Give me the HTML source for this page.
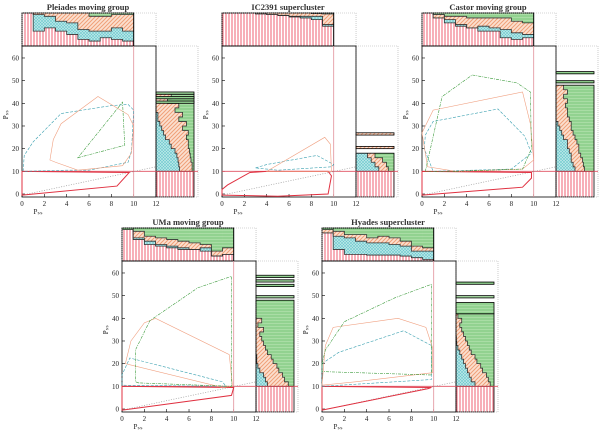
<!DOCTYPE html>
<html><head><meta charset="utf-8">
<style>
html,body{margin:0;padding:0;background:#fff;}
svg{display:block;font-family:"Liberation Serif",serif;}
</style></head>
<body>
<svg id="fig" width="600" height="430" viewBox="0 0 600 430" xmlns="http://www.w3.org/2000/svg">
<defs>
<pattern id="pRed" width="3" height="3" patternUnits="userSpaceOnUse"><rect width="3" height="3" fill="#fff"/><line x1="1" y1="0" x2="1" y2="3" stroke="#f27a8a" stroke-width="1.2"/></pattern>
<pattern id="pCyan" width="3" height="3" patternUnits="userSpaceOnUse"><rect width="3" height="3" fill="#bfe9ea"/><path d="M0,0L3,3M3,0L0,3" stroke="#6cc8cc" stroke-width="0.6"/></pattern>
<pattern id="pOrange" width="4" height="4" patternUnits="userSpaceOnUse"><rect width="4" height="4" fill="#fbe0d0"/><path d="M0,4L4,0M-1,1L1,-1M3,5L5,3" stroke="#f0a078" stroke-width="1"/></pattern>
<pattern id="pGreen" width="3" height="3" patternUnits="userSpaceOnUse"><rect width="3" height="3" fill="#a9dda5"/><line x1="0" y1="1" x2="3" y2="1" stroke="#70c070" stroke-width="0.8"/></pattern>
</defs>
</svg>
<script>
// ---- data ----
const titles = ["Pleiades moving group","IC2391 supercluster","Castor moving group","UMa moving group","Hyades supercluster"];
const xTicks = [0,2,4,6,8,10,12];
const yTicks = [0,10,20,30,40,50,60];
// top histograms: cumulative fractions per 1-unit bin (x 0..10)
const topRed = [
 [1,0.45,0.55,0.45,0.35,0.2,0.15,0.25,0.2,0.15],
 [1,1,1,1,0.95,0.93,0.9,0.85,0.8,0.6],
 [1,0.95,0.7,0.6,0.55,0.45,0.45,0.25,0.2,0.25],
 [1,0.65,0.5,0.45,0.4,0.35,0.35,0.3,0.15,0.2],
 [1,0.35,0.2,0.2,0.18,0.18,0.18,0.15,0.1,0.05]];
const topCyan = [
 [1,0.95,0.9,0.75,0.7,0.5,0.45,0.45,0.55,0.45],
 [1,1,1,0.97,0.95,0.92,0.88,0.9,0.9,0.65],
 [1,0.85,0.8,0.65,0.55,0.6,0.55,0.5,0.4,0.35],
 [1,0.7,0.6,0.5,0.45,0.4,0.35,0.4,0.15,0.2],
 [0.85,0.75,0.7,0.6,0.55,0.55,0.5,0.45,0.3,0.3]];
const topOrange = [
 [1,1,1,1,1,1,0.9,0.9,0.95,0.95],
 [1,1,1,1,1,1,1,1,0.98,0.97],
 [1,0.95,0.9,0.9,0.85,0.85,0.85,0.85,0.75,0.7],
 [0.95,0.9,0.75,0.7,0.65,0.6,0.55,0.5,0.3,0.4],
 [0.95,0.9,0.8,0.8,0.7,0.75,0.7,0.6,0.45,0.4]];
// right histograms: bins of 2 units from P=10; cumulative cyan and orange fractions
const rightCyan = [
 [0.62,0.6,0.58,0.55,0.5,0.4,0.35,0.25,0.2,0.15,0.1,0.05,0.05,0,0,0,0],
 [0.6,0.5,0.4,0.3],
 [0.5,0.45,0.4,0.4,0.35,0.3,0.3,0.2,0.15,0.1,0.05,0,0,0,0,0,0,0,0],
 [0.3,0.25,0.2,0.1,0.05,0.02,0.02,0,0,0,0,0,0,0,0,0,0,0,0],
 [0.5,0.4,0.35,0.3,0.25,0.2,0.15,0.1,0.05,0.02,0.01,0,0,0,0,0]];
const rightOrange = [
 [0.95,0.95,0.92,0.9,0.88,0.85,0.85,0.8,0.85,0.7,0.8,0.6,0.7,0.5,0.6,0.3,0.4],
 [0.85,0.8,0.7,0.5],
 [0.75,0.72,0.7,0.65,0.6,0.6,0.55,0.5,0.45,0.4,0.4,0.35,0.3,0.3,0.25,0.3,0.2,0.3,0.2],
 [0.85,0.75,0.7,0.6,0.55,0.45,0.4,0.3,0.25,0.2,0.15,0.1,0.2,0.05,0.15,0,0,0,0],
 [0.9,0.85,0.8,0.7,0.65,0.55,0.5,0.4,0.35,0.3,0.25,0.2,0.15,0.1,0.15,0.05]];
// isolated thin bars above the main histogram [pLow,pHigh]
const rightBars = [
 [[40,41],[42,43],[44,45]],
 [[20,21],[26,27]],
 [[49,50],[53,54]],
 [[49,50],[54,55],[56,57],[58,59]],
 [[42,47],[49,50],[55,56]]];
// contours: [x,y] in data units
const contRed = [
 [[0,-0.5],[8.5,3.5],[9.6,9.5],[0,10]],
 [[0,-0.5],[5,-1],[9.5,0],[9.8,8],[9.5,10],[4,10],[2.5,9.5],[0.5,4],[0,2]],
 [[0,-0.5],[9,3],[9.8,7],[9.8,9.5],[0,10]],
 [[0,-0.5],[9.8,6],[10,9.5],[0,10]],
 [[0,-0.5],[9.5,9],[9.8,9.5],[0,10]]];
const contCyan = [
 [[0.1,10],[0.2,17],[1,23],[3.5,35.5],[8,39],[9.5,39.5],[10,37],[9.8,19],[9.5,14],[6,10.5],[4,10.5]],
 [[3,11.5],[4,13],[8.5,17],[10,13],[9.8,12],[5,10.5]],
 [[0.2,20],[0.3,26],[1,32],[6.8,37.5],[9.2,25.5],[9.8,18],[8,11],[1,10]],
 [[0,10.5],[0,15],[0.7,22.5],[9,12],[9.3,10]],
 [[0,10],[0,20],[1.5,25],[7.3,34.5],[9.8,28],[9.8,13]]];
const contOrange = [
 [[2.5,15],[2.8,24],[3.5,31],[6.8,43],[9.5,35],[10,30],[9.8,18],[9,12.5],[5,10.5],[3,14]],
 [[4,10],[9.2,25],[9.7,22],[9.8,10]],
 [[0.5,12],[0,27],[1,37],[9,45],[9.7,31],[10,15],[9,11],[3,10]],
 [[9,9.5],[0.3,20],[0.8,30],[2,38],[3,40],[9.6,24],[9.9,10]],
 [[0,10.5],[0.3,28],[1,36],[6.8,40],[9.3,36],[9.9,27],[9.9,16],[3,12]]];
const contGreen = [
 [[5,16],[9.2,21.5],[9,40.5]],
 [],
 [[3,10],[0.3,10],[1.8,43],[4.5,52.5],[8.5,49],[9.7,45],[9.8,20],[9,11]],
 [[1.5,11.5],[1.2,12],[1.2,26],[2.5,39],[6.8,53.5],[9.8,58.5],[9.8,10]],
 [[0,20],[0,16.5],[9.8,15],[9.8,55],[6.5,49],[2,38.5],[0.3,26]]];
const offsets = [[0,0],[200,0],[400,0],[100,215],[300,215]];
const yLabel = ["P\u209B\u209B","P\u209B\u209B","P\u209B\u209B","P\u209B\u209B","P\u209B\u209B"];

const NS="http://www.w3.org/2000/svg";
const svg=document.getElementById('fig');
function mk(tag,attrs,parent){const e=document.createElementNS(NS,tag);for(const k in attrs)e.setAttribute(k,attrs[k]);(parent||svg).appendChild(e);return e;}

offsets.forEach((off,p)=>{
  const ox=off[0], oy=off[1];
  const g=mk('g',{});
  
  
  const X=v=>ox+22+v*11.17;
  const Y=v=>oy+194-v*2.267;
  const TY=f=>oy+46-f*33;
  const RX=f=>ox+156+f*38;
  const t=mk('text',{x:ox+88,y:oy+10,'text-anchor':'middle','font-size':'8.5','font-weight':'bold',fill:'#333'},g);
  t.textContent=titles[p];
  
  
  const th=mk('g',{},g);
  
  
  for(let i=0;i<10;i++){
    const x0=X(i),w=X(i+1)-X(i);
    const layers=[[0,topRed[p][i],'pRed'],[topRed[p][i],topCyan[p][i],'pCyan'],[topCyan[p][i],topOrange[p][i],'pOrange'],[topOrange[p][i],1,'pGreen']];
    layers.forEach(L=>{ if(L[1]>L[0]){const r=mk('rect',{x:x0,y:TY(L[1]),width:w+0.3,height:TY(L[0])-TY(L[1]),fill:'url(#'+L[2]+')'},th);
      
      }});
  }
  [topRed[p],topCyan[p],topOrange[p]].forEach(arr=>{
    let d='';for(let i=0;i<10;i++){d+=(i?'L':'M')+X(i)+','+TY(arr[i])+'L'+X(i+1)+','+TY(arr[i]);}
    mk('path',{d:d,fill:'none',stroke:'#333','stroke-width':0.8},th);
  });
  mk('rect',{x:X(0),y:TY(1),width:X(10)-X(0),height:33,fill:'none',stroke:'#000','stroke-width':1},th);
  mk('rect',{x:X(0),y:oy+13,width:X(12)-X(0),height:33,fill:'none',stroke:'#aaa','stroke-width':0.6,'stroke-dasharray':'1,1'},th);
  const rh=mk('g',{},g);
  
  
  mk('rect',{x:RX(0),y:Y(10),width:38,height:Y(-1.3)-Y(10),fill:'url(#pRed)',stroke:'#000','stroke-width':0.8},rh);
  const rc=rightCyan[p], ro=rightOrange[p], n=rc.length;
  for(let i=0;i<n;i++){
    const y1=Y(10+2*i+2), h=Y(10+2*i)-y1;
    [[0,rc[i],'pCyan'],[rc[i],ro[i],'pOrange'],[ro[i],1,'pGreen']].forEach(L=>{ if(L[1]>L[0]){const r=mk('rect',{x:RX(L[0]),y:y1,width:RX(L[1])-RX(L[0]),height:h+0.3,fill:'url(#'+L[2]+')'},rh);
      
      }});
  }
  [rc,ro].forEach(arr=>{
    let d='';for(let i=0;i<n;i++){d+=(i?'L':'M')+RX(arr[i])+','+Y(10+2*i)+'L'+RX(arr[i])+','+Y(10+2*i+2);}
    mk('path',{d:d,fill:'none',stroke:'#333','stroke-width':0.8},rh);
  });
  mk('rect',{x:RX(0),y:Y(10+2*n),width:38,height:Y(10)-Y(10+2*n),fill:'none',stroke:'#000','stroke-width':0.8},rh);
  rightBars[p].forEach(b=>{const r=mk('rect',{x:RX(0),y:Y(b[1]),width:38,height:Y(b[0])-Y(b[1]),fill:p===1?'url(#pOrange)':'url(#pGreen)',stroke:'#000','stroke-width':0.8},rh);
    
    });
  mk('rect',{x:ox+156,y:oy+46,width:42,height:151,fill:'none',stroke:'#aaa','stroke-width':0.6,'stroke-dasharray':'1,1'},rh);
  const mp=mk('g',{},g);
  
  
  mk('rect',{x:ox+22,y:oy+46,width:134,height:151,fill:'none',stroke:'#000','stroke-width':0.8},mp);
  xTicks.forEach(v=>{mk('line',{x1:X(v),y1:oy+197,x2:X(v),y2:oy+194,stroke:'#000','stroke-width':0.6},mp);
    const tt=mk('text',{x:X(v),y:oy+206,'text-anchor':'middle','font-size':'7',fill:'#222'},mp);tt.textContent=v;
    
    });
  yTicks.forEach(v=>{mk('line',{x1:ox+22,y1:Y(v),x2:ox+25,y2:Y(v),stroke:'#000','stroke-width':0.6},mp);
    const tt=mk('text',{x:ox+19,y:Y(v)+2.5,'text-anchor':'end','font-size':'7',fill:'#222'},mp);tt.textContent=v;
    
    });
  const xl=mk('text',{x:ox+38,y:oy+214,'text-anchor':'middle','font-size':'7',fill:'#222'},mp);xl.textContent='P\u209B\u209B';
  
  
  const yl=mk('text',{x:ox+8,y:Y(35),'text-anchor':'middle','font-size':'7',fill:'#222',transform:'rotate(-90 '+(ox+8)+' '+Y(35)+')'},mp);yl.textContent=yLabel[p];
  
  
  mk('line',{x1:X(10),y1:oy+46,x2:X(10),y2:oy+197,stroke:'#e0909a','stroke-width':0.8},mp);
  mk('line',{x1:X(0),y1:Y(10),x2:ox+198,y2:Y(10),stroke:'#e05060','stroke-width':0.8},mp);
  mk('line',{x1:X(0),y1:Y(-0.5),x2:X(12),y2:Y(12),stroke:'#999','stroke-width':0.7,'stroke-dasharray':'1,1.5'},mp);
  const drawC=(pts,col,dash,name,w)=>{ if(!pts.length)return;
    const c=mk('polygon',{points:pts.map(q=>X(q[0])+','+Y(q[1])).join(' '),fill:'none',stroke:col,'stroke-width':w,'stroke-dasharray':dash},mp);
    
    };
  drawC(contRed[p],'#e03040','none','contour-red',1);
  drawC(contCyan[p],'#3aa0b0','3,1.5','contour-cyan',0.6);
  drawC(contOrange[p],'#f0a080','none','contour-orange',0.6);
  drawC(contGreen[p],'#3a9a3a','3,1,1,1','contour-green',0.6);
});
</script>
</body></html>
